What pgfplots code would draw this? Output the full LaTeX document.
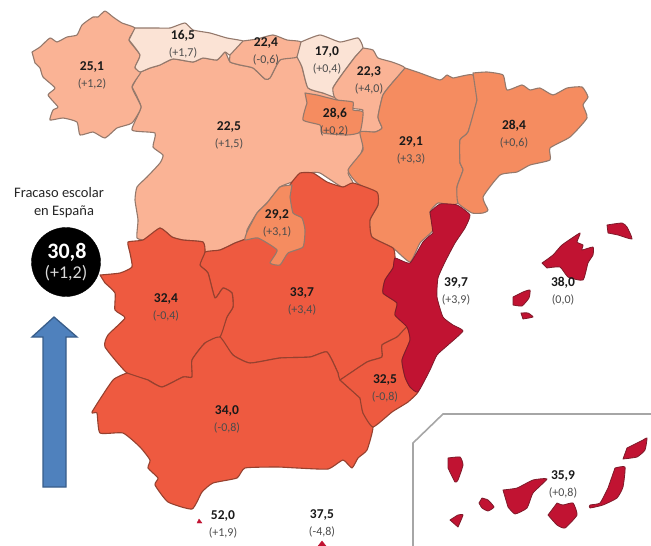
\documentclass[border=0pt]{standalone}
\usepackage{pgfplots}
\usepackage{fontspec}
\setmainfont{Carlito}
\pgfplotsset{compat=1.18}
\definecolor{cLow}{HTML}{FBE3D5}
\definecolor{cMid}{HTML}{FAB395}
\definecolor{cHigh}{HTML}{F58C60}
\definecolor{cRed}{HTML}{EE5A40}
\definecolor{cDark}{HTML}{C11332}
\definecolor{edgeA}{HTML}{94796C}
\definecolor{edgeB}{HTML}{96412F}
\definecolor{edgeC}{HTML}{7E1A2A}
\pgfplotsset{
  base/.style={smooth,tension=0.3,line width=1.1pt,line join=round},
  low/.style={base,fill=cLow,draw=edgeA},
  mid/.style={base,fill=cMid,draw=edgeA},
  high/.style={base,fill=cHigh,draw=edgeA},
  red/.style={base,fill=cRed,draw=edgeB},
  dark/.style={base,fill=cDark,draw=edgeC,line width=0.8pt},
}
\newcommand{\lab}[5]{%
  \node[font=\fontsize{13.5}{13}\selectfont\bfseries,text=black!90,inner sep=0pt] at (axis cs:#1,#2) {#3};
  \node[font=\fontsize{12}{12}\selectfont,text=black!70,inner sep=0pt] at (axis cs:#4,#2+16.5) {#5};
}
\begin{document}
\begin{tikzpicture}
\useasboundingbox (0,0) rectangle (651pt,546pt);
\begin{axis}[
    at={(0,0)}, anchor=south west,
    scale only axis, width=651pt, height=546pt,
    xmin=0, xmax=651, ymin=0, ymax=546,
    y dir=reverse, hide axis, clip=true,
    after end axis/.code={
      \node[font=\fontsize{22}{22}\selectfont\bfseries,text=white,inner sep=0pt] at (axis cs:67,252) {30,8};
      \node[font=\fontsize{18}{18}\selectfont,text=white!85!black,inner sep=0pt] at (axis cs:66,273) {(+1,2)};
    },
]
% Castilla y Leon
\addplot[mid] coordinates {(140,72) (150,68) (160,65) (173,59) (193,62) (203,58) (217,60) (225,52) (230,62) (240,65) (253,68) (265,79) (270,78) (280,60) (297,57) (302,67) (308,88) (323,93) (337,98) (362,132) (363,147) (357,163) (348,173) (353,183) (342,187) (320,173) (310,173) (292,182) (280,187) (267,203) (257,213) (247,230) (247,238) (243,240) (235,243) (220,250) (205,252) (203,242) (183,240) (172,237) (160,228) (148,240) (137,238) (138,220) (135,200) (137,187) (147,177) (160,163) (163,155) (153,147) (155,133) (132,130) (141,107) (132,87)} --cycle;
% Galicia
\addplot[mid] coordinates {(32,52) (40,47) (50,38) (57,42) (67,37) (77,35) (82,25) (93,17) (98,17) (105,11) (113,17) (122,23) (135,28) (129,40) (140,55) (135,68) (141,72) (132,87) (141,107) (132,123) (117,128) (105,138) (93,132) (80,135) (77,122) (63,118) (50,120) (53,110) (58,107) (48,95) (55,88) (43,77) (40,68) (35,63)} --cycle;
% Asturias
\addplot[low] coordinates {(135,28) (157,28) (170,28) (185,23) (193,30) (210,33) (227,38) (243,41) (242,47) (230,55) (225,52) (217,60) (203,58) (193,62) (173,59) (160,65) (150,68) (140,72) (135,67) (140,55) (129,40)} --cycle;
% Cantabria
\addplot[mid] coordinates {(243,41) (257,39) (273,35) (287,40) (301,42) (297,57) (280,60) (270,78) (265,79) (253,68) (240,65) (230,62) (230,55)} --cycle;
% Pais Vasco
\addplot[low] coordinates {(301,42) (320,35) (340,42) (358,38) (363,48) (355,57) (343,73) (333,88) (337,98) (323,93) (308,88) (302,67) (297,57)} --cycle;
% Navarra
\addplot[mid] coordinates {(363,48) (373,50) (378,58) (392,62) (405,68) (393,82) (383,95) (378,117) (382,128) (375,132) (360,132) (358,120) (363,110) (350,108) (335,98) (333,88) (343,73) (355,57)} --cycle;
% La Rioja
\addplot[high] coordinates {(305,93) (317,95) (337,100) (353,102) (353,110) (363,112) (360,132) (347,135) (323,133) (320,125) (303,120) (307,103)} --cycle;
% Aragon
\addplot[high] coordinates {(405,68) (420,73) (440,80) (447,75) (453,78) (473,75) (477,100) (468,132) (460,140) (460,163) (463,170) (457,187) (458,203) (450,205) (438,203) (430,212) (433,230) (420,243) (410,262) (393,248) (372,237) (370,220) (378,205) (375,193) (357,183) (348,170) (363,150) (360,132) (375,132) (382,128) (378,117) (383,95) (393,82)} --cycle;
% Cataluna
\addplot[high] coordinates {(473,73) (487,72) (503,75) (507,90) (522,85) (530,90) (540,88) (553,95) (567,88) (582,87) (588,97) (583,105) (587,118) (570,137) (550,148) (550,160) (530,165) (517,172) (500,175) (483,197) (488,210) (483,213) (472,213) (458,203) (457,187) (463,170) (460,163) (460,140) (468,132) (477,100)} --cycle;
% Castilla-La Mancha
\addplot[red] coordinates {(292,182) (300,173) (313,173) (327,182) (343,187) (353,183) (377,192) (378,205) (370,220) (372,237) (393,248) (395,258) (393,268) (385,280) (383,293) (397,303) (395,315) (407,327) (397,337) (382,345) (382,357) (367,362) (340,380) (338,373) (327,352) (310,357) (280,358) (250,363) (233,355) (220,337) (227,317) (233,307) (232,293) (223,288) (215,298) (208,273) (200,265) (205,252) (220,250) (235,243) (243,240) (247,238) (262,225)} --cycle;
% Madrid
\addplot[high] coordinates {(292,185) (280,187) (267,203) (257,213) (247,232) (245,240) (258,238) (277,250) (270,263) (280,265) (288,253) (303,247) (305,230) (302,218) (293,213) (290,197)} --cycle;
% Extremadura
\addplot[red] coordinates {(100,275) (120,273) (132,267) (130,253) (128,242) (143,240) (160,228) (172,237) (183,240) (203,242) (205,252) (200,265) (208,273) (215,298) (223,288) (232,293) (233,307) (227,317) (220,337) (205,343) (192,360) (192,377) (183,377) (162,387) (148,380) (127,373) (105,347) (108,335) (125,318) (115,310) (115,293) (105,283)} --cycle;
% Andalucia
\addplot[red] coordinates {(127,373) (113,380) (92,412) (97,413) (100,433) (123,433) (140,447) (150,460) (148,468) (158,478) (155,485) (168,502) (192,509) (202,492) (213,483) (237,478) (245,468) (277,467) (297,468) (328,469) (343,460) (352,468) (358,458) (367,450) (373,427) (363,413) (360,398) (340,380) (338,373) (327,352) (310,357) (280,358) (250,363) (233,355) (220,337) (205,343) (192,360) (192,377) (183,377) (162,387) (148,380)} --cycle;
% Murcia
\addplot[red] coordinates {(340,380) (367,362) (382,357) (382,345) (397,337) (407,327) (410,340) (402,360) (405,377) (410,387) (418,392) (408,402) (392,412) (373,427) (363,413) (360,398)} --cycle;
% Valencia
\addplot[dark] coordinates {(430,212) (440,204) (457,205) (470,215) (465,228) (455,243) (445,262) (438,278) (437,297) (443,317) (453,325) (463,331) (448,345) (437,355) (430,370) (418,392) (410,387) (405,377) (402,360) (410,340) (407,327) (395,315) (397,303) (383,293) (385,280) (393,268) (395,258) (410,263) (423,242) (433,233)} --cycle;
% Baleares
\addplot[dark] coordinates {(542,263) (553,255) (562,245) (580,233) (577,242) (583,245) (582,250) (593,247) (593,255) (588,263) (583,280) (568,277) (560,267) (547,268)} --cycle;
\addplot[dark] coordinates {(607,225) (622,223) (627,227) (632,239) (618,235) (608,233)} --cycle;
\addplot[dark] coordinates {(513,297) (523,292) (530,290) (529,298) (522,306) (513,305)} --cycle;
\addplot[dark] coordinates {(521,313) (528,313) (533,317) (523,319)} --cycle;
% Canarias
\addplot[gray!70,line width=1.6pt] coordinates {(413,546) (413,443) (443,414) (651,414)};
\addplot[dark] coordinates {(448,458) (460,457) (463,465) (458,480) (455,482) (448,468)} --cycle;
\addplot[dark] coordinates {(450,520) (458,515) (463,515) (458,527)} --cycle;
\addplot[dark] coordinates {(482,498) (488,500) (494,507) (488,511) (482,508) (479,503)} --cycle;
\addplot[dark] coordinates {(503,490) (517,488) (533,480) (547,479) (533,493) (527,508) (515,514) (508,507)} --cycle;
\addplot[dark] coordinates {(557,503) (563,505) (573,503) (577,515) (565,528) (557,525) (548,515)} --cycle;
\addplot[dark] coordinates {(615,468) (625,467) (623,487) (617,498) (603,505) (590,508) (590,505) (600,503) (608,488)} --cycle;
\addplot[dark] coordinates {(627,448) (643,440) (647,438) (645,450) (637,457) (623,459)} --cycle;
% Ceuta, Melilla
\addplot[fill=cDark,draw=cDark] coordinates {(197,523) (199,519) (202,523)} --cycle;
\addplot[fill=cDark,draw=cDark] coordinates {(318,546) (322,541) (326,546)} --cycle;
% flecha
\addplot[fill={rgb,255:red,79;green,129;blue,189},draw={rgb,255:red,56;green,93;blue,138},line width=1.3pt] coordinates {(54,317) (77,337) (66,337) (66,487) (43,487) (43,337) (32,337)} --cycle;
% media nacional
\addplot[only marks,mark=*,mark size=34.5pt,mark options={fill=black,draw=black}] coordinates {(66,262)};
\node[font=\fontsize{14.5}{14}\selectfont,text=black!85,inner sep=0pt] at (axis cs:59,193) {Fracaso escolar};
\node[font=\fontsize{14.5}{14}\selectfont,text=black!85,inner sep=0pt] at (axis cs:64,212) {en España};
% etiquetas
\lab{92}{67}{25,1}{92}{(+1,2)}
\lab{183}{36}{16,5}{183}{(+1,7)}
\lab{266}{43}{22,4}{266}{(-0,6)}
\lab{327}{52}{17,0}{327}{(+0,4)}
\lab{369}{72}{22,3}{369}{(+4,0)}
\lab{229}{127}{22,5}{229}{(+1,5)}
\lab{335}{114}{28,6}{334}{(+0,2)}
\lab{411}{142}{29,1}{411}{(+3,3)}
\lab{514}{126}{28,4}{514}{(+0,6)}
\lab{277}{215}{29,2}{277}{(+3,1)}
\lab{302}{293}{33,7}{302}{(+3,4)}
\lab{166}{299}{32,4}{166}{(-0,4)}
\lab{227}{411}{34,0}{227}{(-0,8)}
\lab{385}{380}{32,5}{385}{(-0,8)}
\lab{456}{283}{39,7}{456}{(+3,9)}
\lab{563}{283}{38,0}{563}{(0,0)}
\lab{563}{476}{35,9}{563}{(+0,8)}
\lab{223}{516}{52,0}{223}{(+1,9)}
\lab{322}{515}{37,5}{322}{(-4,8)}
\end{axis}
\end{tikzpicture}
\end{document}
